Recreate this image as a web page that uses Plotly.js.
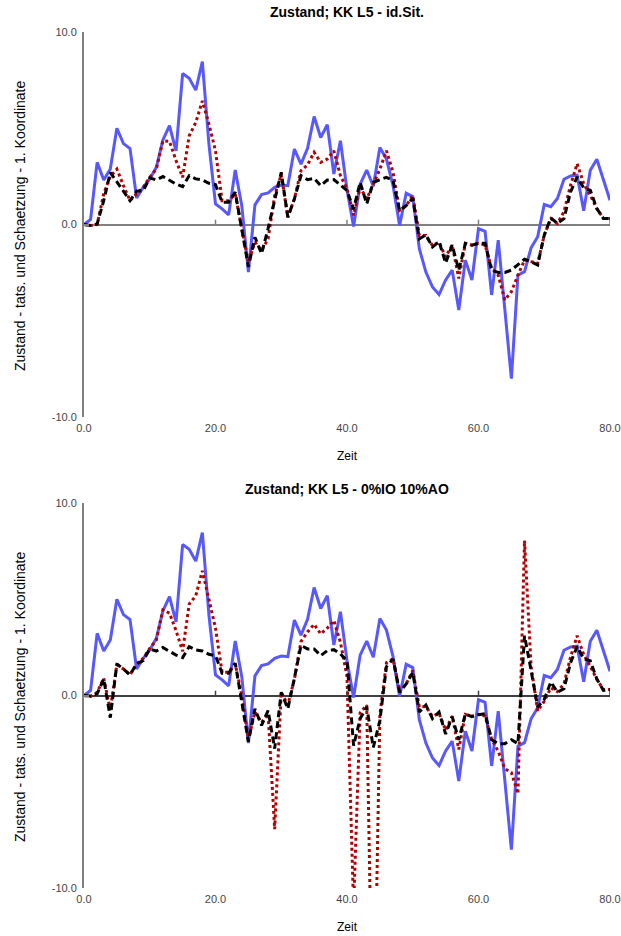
<!DOCTYPE html>
<html>
<head>
<meta charset="utf-8">
<script src="https://cdn.plot.ly/plotly-3.0.1.min.js"></script>
<style>html,body{margin:0;padding:0;background:#fff;}#chart{width:621px;height:936px;}</style>
</head>
<body>
<div id="chart"></div>
<script>
// time axis
const zeit = Array.from({length: 81}, (_, i) => i);

// actual state (same in both panels)
const zustand = [0.0,0.26,3.23,2.31,2.88,5.0,4.2,3.94,1.38,1.93,2.37,2.97,4.39,5.13,3.83,7.84,7.6,6.98,8.46,4.18,
  1.07,0.81,0.5,2.83,0.98,-2.47,1.02,1.55,1.64,1.93,2.05,2.02,3.92,3.14,3.96,5.61,4.52,5.18,2.62,4.35,
  1.81,-0.1,2.1,2.83,1.99,4.0,3.4,2.02,-0.05,1.62,1.45,-1.26,-2.47,-3.25,-3.64,-2.88,-2.37,-4.44,-1.85,-2.88,
  -0.21,-0.35,-3.66,-0.81,-4.4,-8.01,-2.63,-2.45,-1.21,-0.64,1.04,0.92,1.35,2.35,2.52,2.56,0.71,2.82,3.39,2.30,1.26];

// panel 1 (id.Sit.) estimates
const rot1 = [0,-0.05,0.0,1.6,2.5,2.88,2.02,1.24,1.59,1.93,2.45,2.88,4.35,4.32,3.32,2.45,4.61,5.3,6.42,5.22,
  3.83,1.24,1.24,1.59,-0.22,-1.95,-0.92,-1.35,-0.74,1.5,2.6,0.38,1.33,2.8,3.1,3.75,3.23,3.4,3.83,2.54,
  1.85,0.47,1.93,1.33,2.1,2.88,3.83,2.71,0.73,0.98,1.5,-0.57,-0.57,-1.09,-0.92,-1.68,-1.07,-2.8,-0.98,-1.07,
  -0.98,-1.07,-2.28,-2.63,-3.92,-3.49,-2.63,-1.85,-1.93,-2.02,-0.55,0.31,0.05,0.66,2.04,3.16,2.12,1.52,0.83,0.31,0.31];
const schwarz1 = [0,-0.05,0.03,1.24,2.7,2.2,1.76,1.24,1.73,1.76,2.42,2.31,2.49,2.28,2.1,1.97,2.54,2.37,2.31,2.14,
  2.07,1.16,1.16,1.68,-0.31,-2.2,-0.66,-1.52,-0.2,1.33,2.71,0.38,1.33,2.54,2.33,2.4,2.02,2.31,2.33,2.05,
  1.76,0.81,2.19,1.07,2.19,2.33,2.45,2.28,0.73,0.98,1.36,-0.74,-0.54,-1.17,-0.88,-2.0,-1.07,-2.37,-0.98,-1.07,
  -0.98,-0.98,-2.37,-2.49,-2.49,-2.37,-2.1,-1.8,-1.93,-2.1,-0.55,0.35,0.05,0.31,1.69,2.47,1.9,1.78,0.83,0.31,0.31];

// panel 2 (0%IO 10%AO) estimates
const rot2 = [0,-0.05,0.17,0.9,-0.75,1.6,1.38,1.07,1.64,1.93,2.45,2.88,4.45,4.28,3.37,2.3,4.75,5.18,6.48,5.0,
  3.5,1.21,1.21,1.64,0.0,-2.3,-0.86,-1.4,-0.95,-6.94,0.17,-0.5,0.86,2.8,3.3,3.7,3.2,3.5,3.9,2.76,
  1.0,-11,-0.9,-0.5,-20,-1.0,1.7,1.9,0.2,0.6,1.3,-0.6,-0.57,-1.09,-0.92,-1.8,-1.07,-2.8,-0.98,-1.07,
  -0.98,-1.07,-2.28,-2.9,-3.8,-4.0,-5.1,8.05,1.5,-0.8,-0.3,0.4,0.2,0.6,2.0,3.1,2.12,1.52,0.83,0.31,0.31];
const schwarz2 = [0,-0.03,0.09,0.86,-1.15,1.64,1.38,1.07,1.64,1.81,2.42,2.31,2.49,2.28,2.1,1.97,2.54,2.37,2.31,2.14,
  2.07,1.16,1.16,1.68,-0.31,-2.4,-0.69,-1.55,-0.78,-2.76,0.17,-0.69,0.9,2.6,2.42,2.42,2.07,2.33,2.38,2.16,
  1.8,-2.6,-1.2,-0.6,-2.7,-1.3,1.5,1.9,0.17,0.6,1.2,-0.86,-0.5,-1.2,-0.86,-2.0,-1.1,-2.3,-0.95,-1.1,
  -1.0,-0.95,-2.3,-2.5,-2.5,-2.3,-2.5,3.1,1.3,-0.6,-0.2,0.7,0.17,0.35,1.7,2.55,1.9,1.8,0.86,0.26,0.3];

const xTickVals = [0, 20, 40, 60, 80];
const xTickText = ['0.0', '20.0', '40.0', '60.0', '80.0'];
const yTickVals = [-10, 0, 10];
const yTickText = ['-10.0', '0.0', '10.0'];
const titles = ['Zustand; KK L5 - id.Sit.', 'Zustand; KK L5 - 0%IO 10%AO'];
const xTitle = 'Zeit';
const yTitle = 'Zustand - tats. und Schaetzung - 1. Koordinate';

const blue = '#5858ff', red = '#b40000', black = '#000000';
function tr(y, xa, ya, color, dash) {
  return {x: zeit, y: y, xaxis: xa, yaxis: ya, type: 'scatter', mode: 'lines',
    line: {color: color, width: 3, dash: dash}, hoverinfo: 'skip', showlegend: false};
}
const data = [
  tr(zustand, 'x', 'y', blue, 'solid'),
  tr(rot1, 'x', 'y', red, 'dot'),
  tr(schwarz1, 'x', 'y', black, '7px,4px'),
  tr(zustand, 'x2', 'y2', blue, 'solid'),
  tr(rot2, 'x2', 'y2', red, 'dot'),
  tr(schwarz2, 'x2', 'y2', black, '7px,4px')
];

const F = 'Liberation Sans, Arial, sans-serif';
function xa(anchor) {
  return {anchor: anchor, domain: [0, 1], range: [0, 80], showline: false, showgrid: false, zeroline: false,
    ticks: '', tickvals: xTickVals, ticktext: xTickText, tickfont: {family: F, size: 11, color: '#444'},
    ticklabelstandoff: 3, fixedrange: true};
}
function ya(anchor, domain, zc) {
  return {anchor: anchor, domain: domain, range: [-10, 10], showline: true, linecolor: '#808080', linewidth: 2,
    showgrid: false, zeroline: true, zerolinecolor: zc, zerolinewidth: 2,
    ticks: 'inside', ticklen: 5, tickwidth: 2, tickcolor: '#808080', ticklabelstandoff: 3,
    tickvals: yTickVals, ticktext: yTickText, tickfont: {family: F, size: 11, color: '#444'}, fixedrange: true};
}
const H = 856, B = 888;
const py = p => (B - p) / H;
const shapes = [];
[['x', 'y', '#808080'], ['x2', 'y2', '#404040']].forEach(([xr, yr, c]) => {
  xTickVals.slice(1).forEach(v => shapes.push({type: 'line', xref: xr, yref: yr, x0: v, x1: v, y0: 0, y1: 0.25,
    line: {color: c, width: 1.5}}));
});
function ann(text, x, y, size, angle) {
  return {text: text, xref: 'paper', yref: 'paper', x: x, y: y, xanchor: 'center', yanchor: 'middle',
    textangle: angle || 0, showarrow: false, font: {family: F, size: size, color: '#000'}};
}
const annotations = [
  ann('<b>' + titles[0] + '</b>', 0.5, py(12), 14),
  ann('<b>' + titles[1] + '</b>', 0.5, py(489), 14),
  ann(xTitle, 0.5, py(456), 12),
  ann(xTitle, 0.5, py(927), 12),
  ann(yTitle, (20 - 84) / 526, py(226), 14, -90),
  ann(yTitle, (20 - 84) / 526, py(697), 14, -90)
];
const layout = {
  width: 621, height: 936, margin: {l: 84, r: 11, t: 32, b: 48},
  paper_bgcolor: '#fff', plot_bgcolor: '#fff', showlegend: false,
  xaxis: xa('y'), yaxis: ya('x', [py(417), 1], '#808080'),
  xaxis2: xa('y2'), yaxis2: ya('x2', [0, py(503)], '#404040'),
  shapes: shapes, annotations: annotations
};
Plotly.newPlot('chart', data, layout, {displayModeBar: false, staticPlot: true});
</script>
</body>
</html>
